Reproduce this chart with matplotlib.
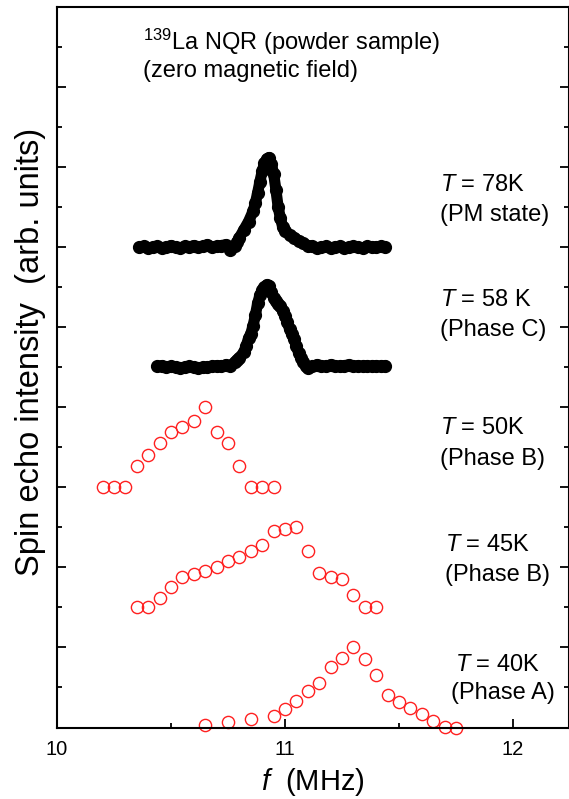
import matplotlib
matplotlib.use("Agg")
import matplotlib.pyplot as plt
from matplotlib.ticker import MultipleLocator

plt.rcParams['font.family'] = ['Liberation Sans', 'DejaVu Sans']
plt.rcParams['mathtext.fontset'] = 'custom'
plt.rcParams['mathtext.rm'] = 'Liberation Sans'
plt.rcParams['mathtext.it'] = 'Liberation Sans:italic'

# ---- data ----
# T = 78K (PM state), black
f78 = [10.36, 10.38, 10.40, 10.42, 10.44, 10.46, 10.48, 10.50, 10.52, 10.54,
       10.56, 10.58, 10.60, 10.62, 10.64, 10.66, 10.68, 10.70, 10.72, 10.74,
       10.76, 10.78, 10.79, 10.80, 10.82, 10.84, 10.86, 10.87, 10.88, 10.89,
       10.90, 10.91, 10.92, 10.93, 10.94, 10.95, 10.96, 10.97, 10.98, 10.99,
       11.00, 11.02, 11.04, 11.06, 11.08, 11.10, 11.12, 11.14, 11.16, 11.18,
       11.20, 11.22, 11.24, 11.26, 11.28, 11.30, 11.32, 11.34, 11.36, 11.38,
       11.40, 11.42, 11.44]
y78 = [6.00, 6.01, 5.99, 6.00, 6.01, 5.99, 6.00, 6.02, 6.00, 5.99,
       6.01, 6.00, 6.02, 6.00, 6.01, 6.03, 6.00, 6.01, 6.02, 6.03,
       5.97, 6.02, 6.07, 6.12, 6.22, 6.32, 6.45, 6.55, 6.68, 6.82,
       6.95, 7.05, 7.10, 7.12, 7.04, 6.92, 6.72, 6.50, 6.36, 6.25,
       6.20, 6.15, 6.12, 6.08, 6.05, 6.02, 6.01, 5.99, 6.00, 6.01,
       5.99, 6.00, 6.01, 5.99, 6.00, 6.01, 6.00, 5.99, 6.01, 6.00,
       6.00, 6.01, 6.00]

# T = 58K (Phase C), black
f58 = [10.44, 10.46, 10.48, 10.50, 10.52, 10.54, 10.56, 10.58, 10.60, 10.62,
       10.64, 10.66, 10.68, 10.70, 10.72, 10.74, 10.76, 10.78, 10.79, 10.80,
       10.82, 10.83, 10.84, 10.85, 10.86, 10.87, 10.88, 10.89, 10.90, 10.91,
       10.92, 10.93, 10.94, 10.95, 10.96, 10.97, 10.98, 10.99, 11.00, 11.01,
       11.02, 11.03, 11.04, 11.05, 11.06, 11.07, 11.08, 11.09, 11.10, 11.12,
       11.14, 11.16, 11.18, 11.20, 11.22, 11.24, 11.26, 11.28, 11.30, 11.32,
       11.34, 11.36, 11.38, 11.40, 11.42, 11.44]
y58 = [4.51, 4.52, 4.50, 4.51, 4.50, 4.49, 4.50, 4.51, 4.50, 4.49,
       4.50, 4.50, 4.51, 4.52, 4.51, 4.53, 4.52, 4.56, 4.59, 4.62,
       4.69, 4.77, 4.86, 4.92, 5.02, 5.15, 5.30, 5.40, 5.46, 5.50,
       5.53, 5.52, 5.44, 5.37, 5.33, 5.29, 5.26, 5.20, 5.14, 5.06,
       4.98, 4.91, 4.85, 4.76, 4.68, 4.62, 4.56, 4.52, 4.49, 4.51,
       4.53, 4.52, 4.51, 4.53, 4.52, 4.51, 4.52, 4.53, 4.51, 4.52,
       4.51, 4.52, 4.51, 4.52, 4.51, 4.52]

# T = 50K (Phase B), red
f50 = [10.20, 10.25, 10.30, 10.35, 10.40, 10.45, 10.50, 10.55, 10.60, 10.65,
       10.70, 10.75, 10.80, 10.85, 10.90, 10.95]
y50 = [3.00, 3.00, 3.00, 3.27, 3.41, 3.55, 3.69, 3.75, 3.83, 4.00,
       3.69, 3.55, 3.27, 3.00, 3.00, 3.00]

# T = 45K (Phase B), red
f45 = [10.35, 10.40, 10.45, 10.50, 10.55, 10.60, 10.65, 10.70, 10.75, 10.80,
       10.85, 10.90, 10.95, 11.00, 11.05, 11.10, 11.15, 11.20, 11.25, 11.30,
       11.35, 11.40]
y45 = [1.50, 1.50, 1.62, 1.75, 1.875, 1.92, 1.955, 2.00, 2.08, 2.13,
       2.21, 2.28, 2.46, 2.48, 2.50, 2.21, 1.93, 1.875, 1.85, 1.65,
       1.50, 1.50]

# T = 40K (Phase A), red
f40 = [10.65, 10.75, 10.85, 10.95, 11.00, 11.05, 11.10, 11.15, 11.20, 11.25,
       11.30, 11.35, 11.40, 11.45, 11.50, 11.55, 11.60, 11.65, 11.70, 11.75]
y40 = [0.033, 0.07, 0.10, 0.14, 0.23, 0.325, 0.45, 0.555, 0.76, 0.87,
       1.00, 0.855, 0.65, 0.41, 0.32, 0.24, 0.17, 0.075, 0.005, 0.0]

labels_T = ["78K", "58 K", "50K", "45K", "40K"]
labels_phase = ["(PM state)", "(Phase C)", "(Phase B)", "(Phase B)", "(Phase A)"]

# ---- figure ----
W, H = 569, 799
fig = plt.figure(figsize=(W / 100, H / 100), dpi=100)
ax = fig.add_axes([57 / W, (H - 727.5) / H, 1 - 57 / W, 720.5 / H])

black_kw = dict(color='black', marker='o', ms=8.5, lw=8.0,
                solid_capstyle='round', solid_joinstyle='round', clip_on=False)
ax.plot(f78, y78, **black_kw)
ax.plot(f58, y58, **black_kw)

red_kw = dict(ls='none', marker='o', ms=8.8, mfc='none', mec='#ff2020', mew=1.0,
              clip_on=False)
ax.plot(f50, y50, **red_kw)
ax.plot(f45, y45, **red_kw)
ax.plot(f40, y40, **red_kw)

ax.set_xlim(10, 10 + 512 / 228)
ax.set_ylim(0, 9)

ax.xaxis.set_major_locator(MultipleLocator(1))
ax.xaxis.set_minor_locator(MultipleLocator(0.5))
ax.yaxis.set_major_locator(MultipleLocator(1))
ax.yaxis.set_minor_locator(MultipleLocator(0.5))
ax.tick_params(which='both', direction='in', top=False, right=True, width=1.3)
ax.tick_params(which='major', length=6.5)
ax.tick_params(which='minor', length=3.5)
ax.tick_params(axis='y', which='both', labelleft=False, labelright=False)
ax.tick_params(axis='x', labelsize=14.5, pad=9)
for s in ax.spines.values():
    s.set_linewidth(1.5)

ax.set_xlabel(r"$f$  (MHz)", fontsize=21, labelpad=5)
ax.set_ylabel("Spin echo intensity  (arb. units)", fontsize=23.5)
ax.yaxis.set_label_coords(-0.022, 0.521)

fs = 17
ax.text(10.377, 8.56, r"$^{139}$La NQR (powder sample)", fontsize=fs, va='center')
ax.text(10.377, 8.20, "(zero magnetic field)", fontsize=fs, va='center')

txt_pos = [(11.68, 6.78, 11.68, 6.40),
           (11.68, 5.34, 11.68, 4.96),
           (11.68, 3.74, 11.68, 3.36),
           (11.70, 2.275, 11.70, 1.90),
           (11.745, 0.775, 11.73, 0.425)]
for (x1, y1, x2, y2), t, p in zip(txt_pos, labels_T, labels_phase):
    ax.text(x1, y1, r"$T$ = " + t, fontsize=fs, va='center')
    ax.text(x2, y2, p, fontsize=fs, va='center')

fig.savefig("out.png", dpi=100)
